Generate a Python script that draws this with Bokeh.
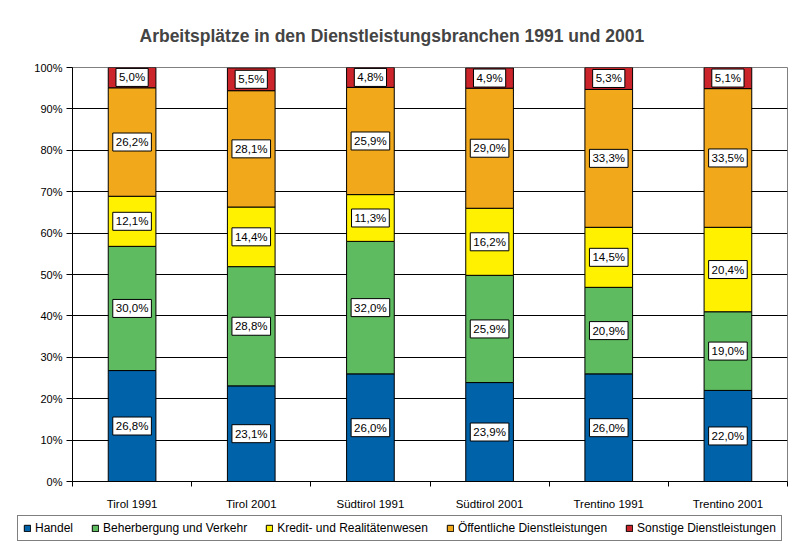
from bokeh.plotting import figure
from bokeh.layouts import column
from bokeh.models import (ColumnDataSource, FixedTicker, PrintfTickFormatter,
                          Legend, LegendItem, Range1d)
from bokeh.core.properties import value
from bokeh.embed import file_html
from bokeh.resources import INLINE

categories = ["Tirol 1991", "Tirol 2001", "Südtirol 1991", "Südtirol 2001", "Trentino 1991", "Trentino 2001"]
series_names = ["Handel", "Beherbergung und Verkehr", "Kredit- und Realitätenwesen",
                "Öffentliche Dienstleistungen", "Sonstige Dienstleistungen"]
handel = [26.8, 23.1, 26.0, 23.9, 26.0, 22.0]
beherbergung = [30.0, 28.8, 32.0, 25.9, 20.9, 19.0]
kredit = [12.1, 14.4, 11.3, 16.2, 14.5, 20.4]
oeffentlich = [26.2, 28.1, 25.9, 29.0, 33.3, 33.5]
sonstige = [5.0, 5.5, 4.8, 4.9, 5.3, 5.1]
colors = ["#0062A8", "#5FBB60", "#FFF100", "#F1A91B", "#CB242B"]
y_ticks = [0, 10, 20, 30, 40, 50, 60, 70, 80, 90, 100]

series = [handel, beherbergung, kredit, oeffentlich, sonstige]
keys = ["s0", "s1", "s2", "s3", "s4"]
xs = [i + 0.5 for i in range(len(categories))]

data = {"x": xs}
for k, s in zip(keys, series):
    data[k] = s
source = ColumnDataSource(data)
FONT = "Liberation Sans"

p = figure(width=792, height=512, output_backend="svg", toolbar_location=None,
           x_range=Range1d(0, len(categories)), y_range=Range1d(0, 100),
           min_border_left=72, min_border_right=5, min_border_top=67, min_border_bottom=30)
p.frame_align = False

p.title.text = "Arbeitsplätze in den Dienstleistungsbranchen 1991 und 2001"
p.title.text_font = FONT
p.title.text_font_size = "17.5px"
p.title.text_font_style = "bold"
p.title.align = "left"
p.title.offset = 67
p.title.standoff = 44

renderers = p.vbar_stack(keys, x="x", width=0.4, source=source, fill_color=colors,
                         line_color="black", line_width=1)

# labels at segment centers
lx, ly, lt = [], [], []
for j in range(len(categories)):
    base = 0.0
    for s in series:
        v = s[j]
        lx.append(xs[j])
        ly.append(base + v / 2)
        lt.append(("%.1f" % v).replace(".", ",") + "%")
        base += v
lsrc = ColumnDataSource(dict(x=lx, y=ly, t=lt))
p.text(x="x", y="y", text="t", source=lsrc, text_align="center", text_baseline="middle",
       text_font=value(FONT), text_font_size="11.5px", text_color="black",
       background_fill_color="white", border_line_color="black", border_line_width=1,
       padding=3)

# axes
p.xaxis.ticker = FixedTicker(ticks=xs, minor_ticks=list(range(len(categories) + 1)))
p.xaxis.major_label_overrides = {x: c for x, c in zip(xs, categories)}
p.xaxis.major_tick_line_color = None
p.xaxis.minor_tick_out = 5
p.xaxis.minor_tick_in = 0
p.xaxis.minor_tick_line_color = "black"
p.xaxis.axis_line_color = "black"
p.xaxis.major_label_text_font = FONT
p.xaxis.major_label_text_font_size = "11.5px"
p.xaxis.major_label_text_color = "black"
p.xaxis.major_label_standoff = 10

p.yaxis.ticker = FixedTicker(ticks=y_ticks)
p.yaxis.formatter = PrintfTickFormatter(format="%d%%")
p.yaxis.major_tick_out = 6
p.yaxis.major_tick_in = 0
p.yaxis.minor_tick_line_color = None
p.yaxis.axis_line_color = "black"
p.yaxis.major_label_text_font = FONT
p.yaxis.major_label_text_font_size = "11px"
p.yaxis.major_label_text_color = "black"
p.yaxis.major_label_standoff = 4

p.xgrid.grid_line_color = None
p.ygrid.ticker = FixedTicker(ticks=y_ticks)
p.ygrid.grid_line_color = "black"
p.ygrid.grid_line_width = 1
p.outline_line_color = "#808080"
p.background_fill_color = "white"
p.border_fill_color = "white"

# legend strip below the chart (its bars lie outside its own visible range)
p2 = figure(width=792, height=34, output_backend="svg", toolbar_location=None,
            x_range=Range1d(-2, -1), y_range=Range1d(0, 1),
            x_axis_location=None, y_axis_location=None,
            min_border_left=0, min_border_right=0, min_border_top=0, min_border_bottom=0)
p2.frame_align = False
p2.grid.grid_line_color = None
p2.outline_line_color = None
p2.background_fill_color = "white"
p2.border_fill_color = "white"
proxies = p2.vbar_stack(keys, x="x", width=0.4, source=source, fill_color=colors,
                        line_color="black", line_width=1)

items = [LegendItem(label=n, renderers=[r]) for n, r in zip(series_names, proxies)]
legend = Legend(items=items, orientation="horizontal", location=(17, 5),
                label_text_font=FONT, label_text_font_size="12px", label_text_color="black",
                glyph_width=8, glyph_height=8, label_standoff=4, spacing=18, label_height=12,
                padding=5, margin=0, border_line_color="black", border_line_width=1,
                background_fill_color="white", background_fill_alpha=1)
p2.add_layout(legend, "center")

layout = column(p, p2, spacing=0)
open("out.html", "w").write(file_html(layout, INLINE))
